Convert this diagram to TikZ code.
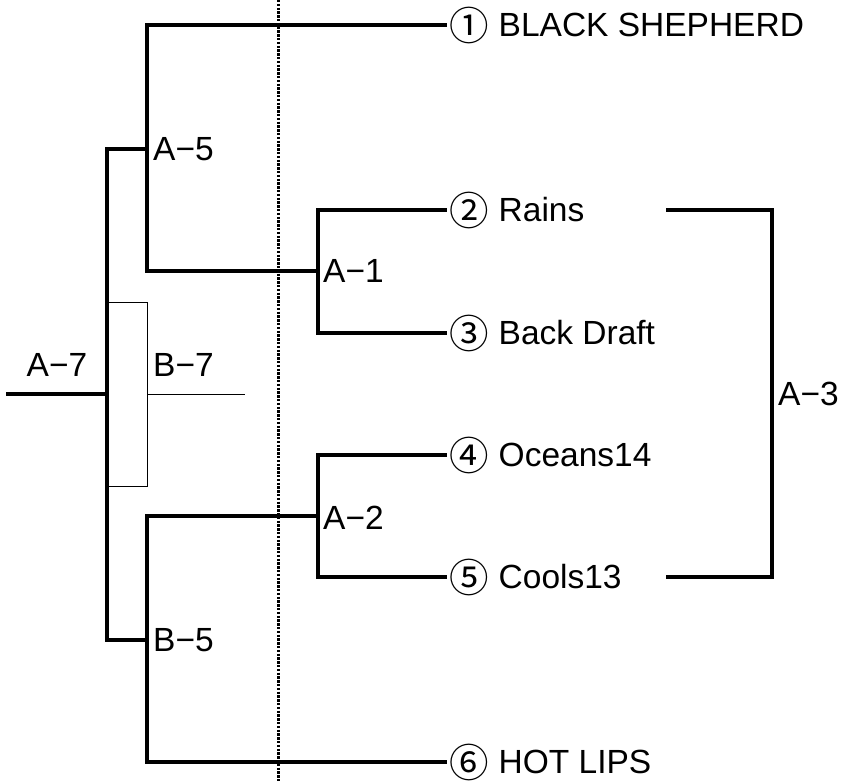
\documentclass[tikz,border=0pt]{standalone}
\usepackage{fontspec}
\setmainfont{Liberation Sans}
\newfontfamily\cjk{Noto Sans CJK JP}
\tikzset{
  thickline/.style={line width=3.2pt,line cap=rect},
  thinline/.style={line width=1pt},
  dotline/.style={line width=3pt,dash pattern=on 2.4pt off 1.4pt},
  team/.style={anchor=west,inner sep=0pt,text height=23pt,text depth=0pt,font=\fontsize{33.5}{36}\selectfont},
  lbl/.style={inner sep=0pt,text height=23pt,text depth=0pt,font=\fontsize{33.5}{36}\selectfont}}
\newcommand{\circnum}[1]{\hspace{4.5pt}\raisebox{-3.8pt}{\cjk\fontsize{39.5}{40}\selectfont #1}\hspace{9.5pt}}
\begin{document}
\begin{tikzpicture}[x=1pt,y=-1pt]
\useasboundingbox (0,0) rectangle (843,781);
% dotted divider
\coordinate (dtop) at (278,0);
\coordinate (dbot) at (278,781);
\draw[dotline] (dtop) -- (dbot);
% teams
\node[team] (t1) at (445,25)  {\circnum{①}BLACK SHEPHERD};
\node[team] (t2) at (445,210) {\circnum{②}Rains};
\node[team] (t3) at (445,333) {\circnum{③}Back Draft};
\node[team] (t4) at (445,455) {\circnum{④}Oceans14};
\node[team] (t5) at (445,577) {\circnum{⑤}Cools13};
\node[team] (t6) at (445,762) {\circnum{⑥}HOT LIPS};
% junctions
\coordinate (start) at (8,394);
\coordinate (p7) at (107,394);
\coordinate (a5) at (147,149);
\coordinate (b5) at (147,640);
\coordinate (a1) at (318,271);
\coordinate (a2) at (318,516);
\coordinate (a3) at (772,394);
\coordinate (r2) at (668,210);
\coordinate (r5) at (668,577);
% thin box and B-7 line
\coordinate (bx1) at (107,302);
\coordinate (bx2) at (147,302);
\coordinate (bx3) at (147,486);
\coordinate (bx4) at (107,486);
\coordinate (b7) at (147,394);
\coordinate (b7e) at (245,394);
\draw[thinline] (bx1) -- (bx2) -- (bx3) -- (bx4);
\draw[thinline] (b7) -- (b7e);
% bracket lines
\draw[thickline] (start) -- (p7);
\draw[thickline] (a5) -- ++(-40,0) |- (b5);
\draw[thickline] (t1.west) -| (a5) |- (a1);
\draw[thickline] (t2.west) -| (a1) |- (t3.west);
\draw[thickline] (t4.west) -| (a2) |- (t5.west);
\draw[thickline] (t6.west) -| (b5) |- (a2);
\draw[thickline] (r2) -| (a3) |- (r5);
% labels
\node[lbl] (l7) at (57,365) {A−7};
\node[lbl,anchor=west] (lb7) at (153,365) {B−7};
\node[lbl,anchor=west] (l5) at (153,149) {A−5};
\node[lbl,anchor=west] (lb5) at (153,640) {B−5};
\node[lbl,anchor=west] (l1) at (323,271) {A−1};
\node[lbl,anchor=west] (l2) at (323,518) {A−2};
\node[lbl,anchor=west] (l3) at (778,394) {A−3};
\end{tikzpicture}
\end{document}
